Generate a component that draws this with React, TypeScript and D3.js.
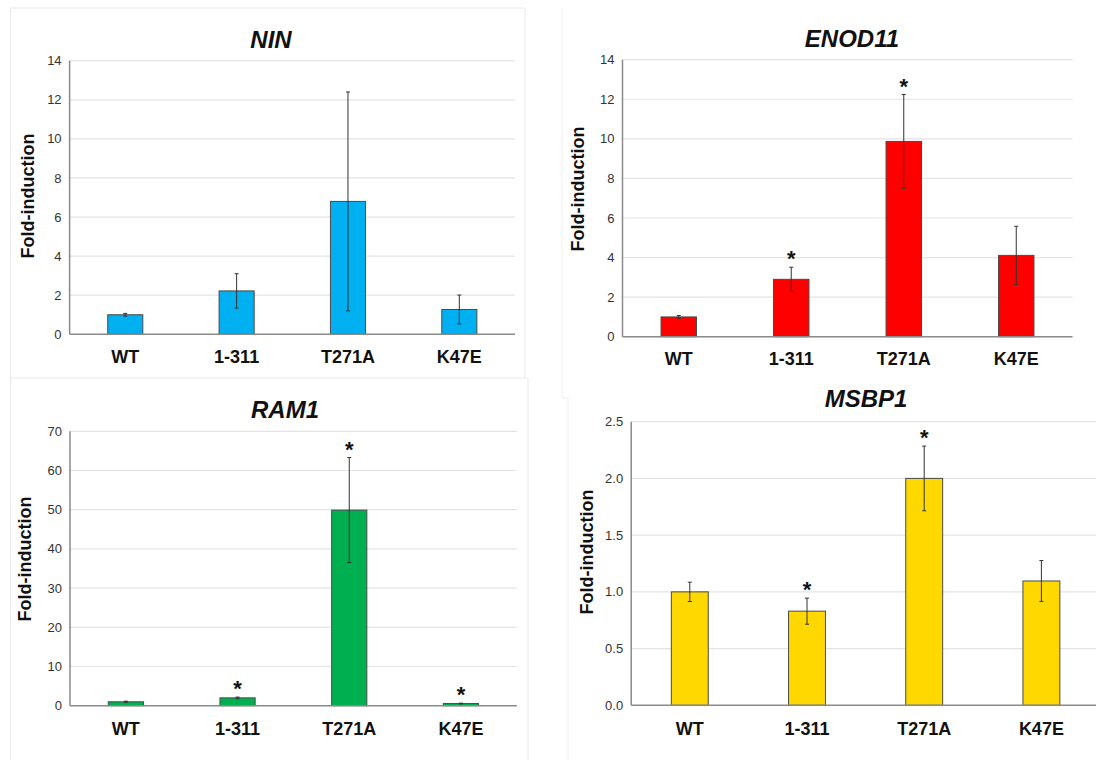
import React from "react";
import * as d3 from "d3";

const categories = ["WT", "1-311", "T271A", "K47E"];

const ninValues = [1.0, 2.22, 6.8, 1.27];
const ninErrors = [0.07, 0.88, 5.6, 0.74];
const ninStars = [false, false, false, false];

const enodValues = [1.0, 2.9, 9.87, 4.11];
const enodErrors = [0.07, 0.61, 2.37, 1.47];
const enodStars = [false, true, true, false];

const ramValues = [1.0, 2.0, 49.9, 0.55];
const ramErrors = [0.15, 0.2, 13.4, 0.1];
const ramStars = [false, true, true, true];

const msbpValues = [1.0, 0.83, 2.0, 1.096];
const msbpErrors = [0.085, 0.115, 0.285, 0.18];
const msbpStars = [false, true, true, false];

const ninTicks = [0, 2, 4, 6, 8, 10, 12, 14];
const enodTicks = [0, 2, 4, 6, 8, 10, 12, 14];
const ramTicks = [0, 10, 20, 30, 40, 50, 60, 70];
const msbpTicks = [0, 0.5, 1.0, 1.5, 2.0, 2.5];

type PanelSpec = {
  title: string;
  values: number[];
  errors: number[];
  stars: boolean[];
  ticks: number[];
  fmt: (v: number) => string;
  color: string;
  x0: number;
  x1: number;
  yTop: number;
  yBot: number;
  titleX: number;
  titleY: number;
  yLabelX: number;
  yLabelY: number;
  catY: number;
};

const panels: PanelSpec[] = [
  {
    title: "NIN", values: ninValues, errors: ninErrors, stars: ninStars, ticks: ninTicks,
    fmt: d3.format("d"), color: "#00B0F0",
    x0: 69.6, x1: 515, yTop: 60.7, yBot: 334.3, titleX: 271, titleY: 48,
    yLabelX: 33.5, yLabelY: 196, catY: 363,
  },
  {
    title: "ENOD11", values: enodValues, errors: enodErrors, stars: enodStars, ticks: enodTicks,
    fmt: d3.format("d"), color: "#FF0000",
    x0: 622.5, x1: 1072.5, yTop: 59.7, yBot: 336.7, titleX: 852, titleY: 46.7,
    yLabelX: 584, yLabelY: 189, catY: 365,
  },
  {
    title: "RAM1", values: ramValues, errors: ramErrors, stars: ramStars, ticks: ramTicks,
    fmt: d3.format("d"), color: "#00B050",
    x0: 70, x1: 516.8, yTop: 431.3, yBot: 705.7, titleX: 285, titleY: 418,
    yLabelX: 31, yLabelY: 559, catY: 735,
  },
  {
    title: "MSBP1", values: msbpValues, errors: msbpErrors, stars: msbpStars, ticks: msbpTicks,
    fmt: d3.format(".1f"), color: "#FFD800",
    x0: 631.2, x1: 1100, yTop: 421.7, yBot: 705.3, titleX: 866, titleY: 407,
    yLabelX: 593, yLabelY: 552, catY: 735,
  },
];

const FONT = "'Liberation Sans', Arial, Helvetica, sans-serif";

function Panel({ p }: { p: PanelSpec }) {
  const x = d3
    .scaleBand<string>()
    .domain(categories)
    .range([p.x0, p.x1])
    .paddingInner(0.685)
    .paddingOuter(0.3425);
  const y = d3
    .scaleLinear()
    .domain([0, p.ticks[p.ticks.length - 1]])
    .range([p.yBot, p.yTop]);
  const bw = x.bandwidth();
  return (
    <g>
      {p.ticks.map((t) => (
        <g key={"t" + t}>
          {t > 0 && (
            <line x1={p.x0} x2={p.x1} y1={y(t)} y2={y(t)} stroke="#E3E3E3" strokeWidth={1.2} />
          )}
          <text
            x={p.x0 - 8}
            y={y(t)}
            dy="0.35em"
            textAnchor="end"
            fontFamily={FONT}
            fontSize={13}
            fill="#333"
          >
            {p.fmt(t)}
          </text>
        </g>
      ))}
      <line x1={p.x0} x2={p.x0} y1={p.yTop} y2={p.yBot} stroke="#8A8A8A" strokeWidth={1.5} />
      {categories.map((c, i) => {
        const cx = (x(c) as number) + bw / 2;
        const v = p.values[i];
        const e = p.errors[i];
        const errTop = y(v + e);
        return (
          <g key={c}>
            <rect
              x={x(c)}
              y={y(v)}
              width={bw}
              height={p.yBot - y(v)}
              fill={p.color}
              stroke="#4A4A4A"
              strokeWidth={1}
            />
            <line x1={cx} x2={cx} y1={y(v - e)} y2={errTop} stroke="#333" strokeWidth={1} />
            <line x1={cx - 2} x2={cx + 2} y1={errTop} y2={errTop} stroke="#333" strokeWidth={1} />
            <line x1={cx - 2} x2={cx + 2} y1={y(v - e)} y2={y(v - e)} stroke="#333" strokeWidth={1} />
            {p.stars[i] && (
              <text
                x={cx}
                y={errTop - 14 + 13}
                textAnchor="middle"
                fontFamily={FONT}
                fontWeight="bold"
                fontSize={22}
                fill="#111"
              >
                *
              </text>
            )}
            <text
              x={cx}
              y={p.catY}
              textAnchor="middle"
              fontFamily={FONT}
              fontWeight="bold"
              fontSize={18}
              fill="#111"
            >
              {c}
            </text>
          </g>
        );
      })}
      <line x1={p.x0} x2={p.x1} y1={p.yBot} y2={p.yBot} stroke="#8A8A8A" strokeWidth={1.5} />
      <text
        x={p.titleX}
        y={p.titleY}
        textAnchor="middle"
        fontFamily={FONT}
        fontWeight="bold"
        fontStyle="italic"
        fontSize={24}
        fill="#111"
      >
        {p.title}
      </text>
      <text
        transform={`translate(${p.yLabelX},${p.yLabelY}) rotate(-90)`}
        textAnchor="middle"
        fontFamily={FONT}
        fontWeight="bold"
        fontSize={18}
        fill="#111"
      >
        Fold-induction
      </text>
    </g>
  );
}

export default function App() {
  return (
    <svg
      width={1096}
      height={760}
      viewBox="0 0 1096 760"
      style={{ position: "absolute", left: 0, top: 0, background: "#fff" }}
    >
      <rect x={0} y={0} width={1096} height={760} fill="#fff" />
      {/* faint panel frames */}
      <path d="M10.7,378 V8 H525 V378" fill="none" stroke="#E8E8E8" strokeWidth={1} />
      <path d="M562,398 V8" fill="none" stroke="#EEEEEE" strokeWidth={1} />
      <path d="M10.7,760 V378 H528 V760" fill="none" stroke="#E8E8E8" strokeWidth={1} />
      <path d="M562,398 H568 V760" fill="none" stroke="#EEEEEE" strokeWidth={1} />
      {panels.map((p) => (
        <Panel key={p.title} p={p} />
      ))}
    </svg>
  );
}
